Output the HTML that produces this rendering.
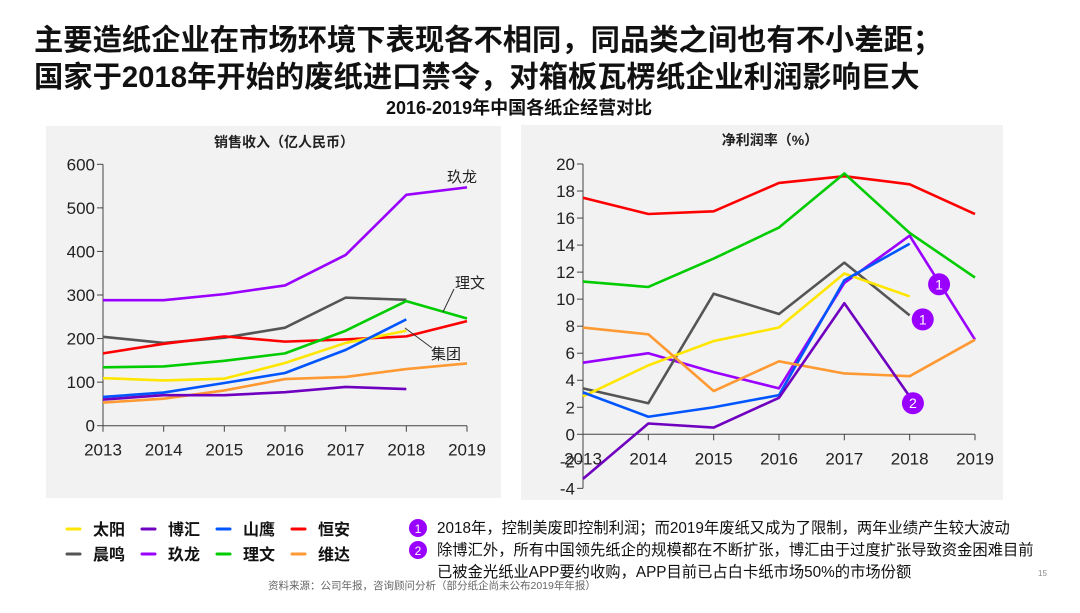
<!DOCTYPE html>
<html><head><meta charset="utf-8">
<style>
body{margin:0;width:1080px;height:608px;background:#fff;overflow:hidden;font-family:"Liberation Sans","Noto Sans CJK SC",sans-serif;}
svg text{font-family:"Liberation Sans","Noto Sans CJK SC",sans-serif;}
</style></head><body>
<svg id="s" width="1080" height="608" viewBox="0 0 1080 608" xmlns="http://www.w3.org/2000/svg">
<text x="34" y="50" font-size="29.3" font-weight="bold" fill="#111">主要造纸企业在市场环境下表现各不相同，同品类之间也有不小差距；</text>
<text x="34" y="87" font-size="29.3" font-weight="bold" fill="#111">国家于2018年开始的废纸进口禁令，对箱板瓦楞纸企业利润影响巨大</text>
<text x="386" y="114" font-size="18" font-weight="bold" fill="#111">2016-2019年中国各纸企经营对比</text>
<rect x="46" y="126" width="455" height="372" fill="#f2f2f2"/>
<rect x="521" y="125" width="482" height="375" fill="#f2f2f2"/>
<text x="284" y="147" font-size="14" font-weight="bold" text-anchor="middle" fill="#222">销售收入（亿人民币）</text>
<text x="770" y="145" font-size="14" font-weight="bold" text-anchor="middle" fill="#222">净利润率（%）</text>
<g id="L"></g><g id="R"></g>
<text x="447" y="182" font-size="15" fill="#222">玖龙</text>
<text x="455" y="288" font-size="15" fill="#222">理文</text>
<line x1="454" y1="289" x2="443" y2="312" stroke="#333" stroke-width="1"/>
<text x="431" y="359" font-size="15" fill="#222">集团</text>
<line x1="432" y1="348" x2="405" y2="328" stroke="#333" stroke-width="1"/>
<g id="leg"></g>
<g font-size="15.3" fill="#111">
<circle cx="418" cy="528" r="9" fill="#9900ff"/><text x="418" y="533" font-size="12" fill="#fff" text-anchor="middle">1</text>
<circle cx="418" cy="550" r="9" fill="#9900ff"/><text x="418" y="555" font-size="12" fill="#fff" text-anchor="middle">2</text>
<text x="437" y="533">2018年，控制美废即控制利润；而2019年废纸又成为了限制，两年业绩产生较大波动</text>
<text x="437" y="555">除博汇外，所有中国领先纸企的规模都在不断扩张，博汇由于过度扩张导致资金困难目前</text>
<text x="437" y="577">已被金光纸业APP要约收购，APP目前已占白卡纸市场50%的市场份额</text>
</g>
<text x="268" y="589" font-size="10.5" fill="#666">资料来源：公司年报，咨询顾问分析（部分纸企尚未公布2019年年报）</text>
<text x="1038" y="576" font-size="8" fill="#888">15</text>
</svg>
<script>
const years=['2013','2014','2015','2016','2017','2018','2019'];
const names=['太阳','博汇','山鹰','恒安','晨鸣','玖龙','理文','维达'];
const colors=['#ffe600','#7000c0','#0055ff','#ff0000','#555555','#9900ff','#00cc00','#ff9933'];
const revTicks=[0,100,200,300,400,500,600];
const marTicks=[-4,-2,0,2,4,6,8,10,12,14,16,18,20];
const revTaiyang=[109,104,108,144,190,218];
const revBohui=[60,70,70,77,89,84];
const revShanying=[66,76,98,121,174,244];
const revHengan=[166,188,205,193,198,205,240];
const revChenming=[204,190,202,225,294,289];
const revJiulong=[288,288,302,322,392,530,547];
const revLiwen=[134,136,149,166,218,286,246];
const revWeida=[53,62,81,107,112,130,143];
const marTaiyang=[2.8,5.1,6.9,7.9,11.9,10.2];
const marBohui=[-3.3,0.8,0.5,2.7,9.7,2.8];
const marShanying=[3.1,1.3,2.0,2.9,11.4,14.1];
const marHengan=[17.5,16.3,16.5,18.6,19.1,18.5,16.3];
const marChenming=[3.4,2.3,10.4,8.9,12.7,8.8];
const marJiulong=[5.3,6.0,4.6,3.4,11.2,14.7,7.0];
const marLiwen=[11.3,10.9,13.0,15.3,19.3,14.9,11.6];
const marWeida=[7.9,7.4,3.2,5.4,4.5,4.3,7.0];
const revSeries=[revTaiyang,revBohui,revShanying,revHengan,revChenming,revJiulong,revLiwen,revWeida];
const marSeries=[marTaiyang,marBohui,marShanying,marHengan,marChenming,marJiulong,marLiwen,marWeida];
const NS='http://www.w3.org/2000/svg';
function mk(p,t,a){const e=document.createElementNS(NS,t);for(const k in a)e.setAttribute(k,a[k]);p.appendChild(e);return e;}
const drawOrder=[5,4,3,6,0,2,7,1];
function chart(g,x0,x1,yMin,yMax,py0,py1,ticks,series,prefix,xAxisY,yAxisBottom){
  const X=i=>x0+(x1-x0)*i/(years.length-1);
  const Y=v=>py0+(py1-py0)*(v-yMin)/(yMax-yMin);
  const ax=mk(g,'line',{x1:x0,y1:Y(ticks[ticks.length-1]),x2:x0,y2:Y(yAxisBottom),stroke:'#444','stroke-width':1});
  
  ticks.forEach(t=>{
    mk(g,'line',{x1:x0-6,y1:Y(t),x2:x0,y2:Y(t),stroke:'#444'});
    const tx=mk(g,'text',{x:x0-8,y:Y(t)+6,'font-size':17,'text-anchor':'end',fill:'#222'});tx.textContent=t;
    
  });
  const xa=mk(g,'line',{x1:x0,y1:Y(xAxisY),x2:x1,y2:Y(xAxisY),stroke:'#444'});
  
  years.forEach((y,i)=>{
    mk(g,'line',{x1:X(i),y1:Y(xAxisY),x2:X(i),y2:Y(xAxisY)+6,stroke:'#444'});
    const tx=mk(g,'text',{x:X(i),y:Y(xAxisY)+30,'font-size':17,'text-anchor':'middle',fill:'#222'});tx.textContent=y;
    
  });
  drawOrder.forEach(k=>{
    const pts=series[k].map((v,i)=>X(i)+','+Y(v)).join(' ');
    const pl=mk(g,'polyline',{points:pts,fill:'none',stroke:colors[k],'stroke-width':2.6,'stroke-linejoin':'round'});
    
    
  });
  return {X,Y};
}
chart(document.getElementById('L'),103,467,0,600,425.7,164.3,revTicks,revSeries,'revenue',0,0);
const r=chart(document.getElementById('R'),583,975,0,20,434.3,164,marTicks,marSeries,'margin',0,-4);
const R=document.getElementById('R');
[[5.45,11.1,'1'],[5.2,8.5,'1'],[5.05,2.3,'2']].forEach(b=>{
  const c=mk(R,'circle',{cx:r.X(b[0]),cy:r.Y(b[1]),r:11,fill:'#9900ff'});
  
  const t=mk(R,'text',{x:r.X(b[0]),y:r.Y(b[1])+5,'font-size':14,fill:'#fff','text-anchor':'middle'});t.textContent=b[2];
});
const leg=document.getElementById('leg');
const lx=[67,142,217,292];
names.forEach((n,k)=>{
  const x=lx[k%4],y=k<4?529:554;
  const l=mk(leg,'line',{x1:x,y1:y,x2:x+13,y2:y,stroke:colors[k],'stroke-width':3,'stroke-linecap':'round'});
  
  const t=mk(leg,'text',{x:x+26,y:y+6,'font-size':16,'font-weight':'bold',fill:'#111'});t.textContent=n;
  
});
</script>
</body></html>
